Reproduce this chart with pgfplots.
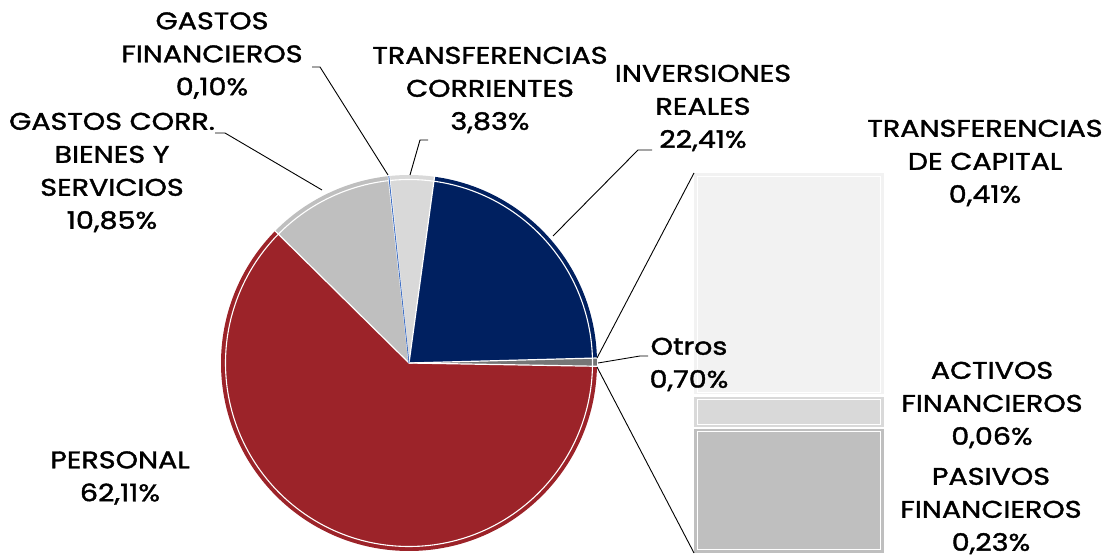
\documentclass[border=0pt]{standalone}
\usepackage{pgfplots}
\pgfplotsset{compat=1.18}
\usepackage{pgfplotstable}
\usepackage{fontspec}
\setmainfont{Poppins}[FakeBold=1.6,FakeStretch=1.19]
\definecolor{cPers}{HTML}{9C2329}
\definecolor{cGcorr}{HTML}{BFBFBF}
\definecolor{cGfin}{HTML}{4472C4}
\definecolor{cTcorr}{HTML}{D9D9D9}
\definecolor{cInv}{HTML}{002060}
\definecolor{cOtros}{HTML}{767676}
\definecolor{cTcap}{HTML}{F2F2F2}
\definecolor{cAct}{HTML}{D9D9D9}
\definecolor{cPas}{HTML}{BFBFBF}

\pgfplotstableread{
value col
62.11 cPers
10.85 cGcorr
0.10 cGfin
3.83 cTcorr
22.41 cInv
0.70 cOtros
}\piedata

\begin{document}
\begin{tikzpicture}[lbl/.style={align=center,inner sep=0pt,font=\fontsize{24}{33}\selectfont}]
\useasboundingbox (0,0) rectangle (1114pt,557pt);
\pgfplotstablegetrowsof{\piedata}
\pgfmathtruncatemacro\nrows{\pgfplotsretval-1}
% bar of pie
\begin{axis}[at={(694pt,4pt)},anchor=south west,scale only axis,width=190pt,height=380pt,
  hide axis,clip=false,xmin=-0.5,xmax=0.5,ymin=0,ymax=0.70,ybar stacked,bar width=190pt]
\addplot[fill=cPas,draw=none] coordinates {(0,0.23)};
\addplot[fill=cAct,draw=none] coordinates {(0,0.06)};
\addplot[fill=cTcap,draw=none] coordinates {(0,0.41)};
\end{axis}
\begin{axis}[at={(694pt,4pt)},anchor=south west,scale only axis,width=190pt,height=380pt,
  hide axis,clip=false,xmin=-0.5,xmax=0.5,ymin=0,ymax=0.70]
\draw[white,line width=2.2pt] (axis cs:-0.5,0.23) -- (axis cs:0.5,0.23);
\draw[white,line width=2.2pt] (axis cs:-0.5,0.29) -- (axis cs:0.5,0.29);
\draw[white,line width=1.1pt] ([xshift=3.5pt,yshift=3.5pt]axis cs:-0.5,0) rectangle ([xshift=-3.5pt,yshift=-3.5pt]axis cs:0.5,0.23);
\draw[white,line width=1.1pt] ([xshift=3.5pt,yshift=3.5pt]axis cs:-0.5,0.23) rectangle ([xshift=-3.5pt,yshift=-3.5pt]axis cs:0.5,0.29);
\draw[white,line width=1.1pt] ([xshift=3.5pt,yshift=3.5pt]axis cs:-0.5,0.29) rectangle ([xshift=-3.5pt,yshift=-3.5pt]axis cs:0.5,0.70);
\end{axis}
\begin{axis}[x=1pt,y=1pt,xmin=0,xmax=1114,ymin=0,ymax=557,hide axis,clip=false,
  anchor=south west, at={(0,0)}]
\pgfplotsextra{
  \def\ang{-1.0}
  \pgfplotsforeachungrouped \i in {0,...,\nrows}{%
    \pgfplotstablegetelem{\i}{value}\of\piedata \let\sv\pgfplotsretval
    \pgfplotstablegetelem{\i}{col}\of\piedata \let\scol\pgfplotsretval
    \pgfmathsetmacro\endang{\ang-3.6*\sv}%
    \fill[fill=\scol] (axis cs:409,194) -- ++(\ang:188pt) arc[start angle=\ang, end angle=\endang, radius=188pt] -- cycle;
    \draw[white,line width=1.1pt] (axis cs:409,194) ++(\ang:183.5pt) arc[start angle=\ang, end angle=\endang, radius=183.5pt];
    \let\ang\endang
  }%
  \def\ang{-1.0}
  \pgfplotsforeachungrouped \i in {0,...,\nrows}{%
    \pgfplotstablegetelem{\i}{value}\of\piedata \let\sv\pgfplotsretval
    \draw[white,line width=1.2pt] (axis cs:409,194) -- ++(\ang:189pt);
    \pgfmathsetmacro\endang{\ang-3.6*\sv}%
    \let\ang\endang
  }%
  \def\ang{-1.0}
  \pgfplotsforeachungrouped \i in {0,...,\nrows}{%
    \pgfplotstablegetelem{\i}{value}\of\piedata \let\sv\pgfplotsretval
    \pgfplotstablegetelem{\i}{col}\of\piedata \let\scol\pgfplotsretval
    \pgfmathsetmacro\endang{\ang-3.6*\sv}%
    \pgfmathsetmacro\midang{\ang-1.8*\sv}%
    \ifdim\sv pt<0.3pt
      \draw[draw=\scol,line width=0.9pt] (axis cs:409,194) -- ++(\midang:188pt);
    \fi
    \let\ang\endang
  }%
}
% leader lines
\draw[black,line width=0.9pt] (axis cs:312,490) -- (axis cs:320,490) -- (axis cs:388,382);
\draw[black,line width=0.9pt] (axis cs:428,417) -- (axis cs:420,417) -- (axis cs:410,382);
\draw[black,line width=0.9pt] (axis cs:652,407) -- (axis cs:638,407) -- (axis cs:553,321);
\draw[black,line width=0.9pt] (axis cs:215,424) -- (axis cs:225,424) -- (axis cs:322,367);
\draw[black,line width=0.9pt] (axis cs:648,201) -- (axis cs:640,201) -- (axis cs:598,194);
% connectors
\draw[black,line width=0.9pt] (axis cs:597,199) -- (axis cs:694,384);
\draw[black,line width=0.9pt] (axis cs:597,190) -- (axis cs:694,4);
% labels
\node[lbl] at (axis cs:212,501.5) {GASTOS\\FINANCIEROS\\0,10\%};
\node[lbl] at (axis cs:490,467) {TRANSFERENCIAS\\CORRIENTES\\3,83\%};
\node[lbl] at (axis cs:703,449) {INVERSIONES\\REALES\\22,41\%};
\node[lbl] at (axis cs:985,394) {TRANSFERENCIAS\\DE CAPITAL\\0,41\%};
\node[lbl] at (axis cs:112,384.5) {GASTOS CORR.\\BIENES Y\\SERVICIOS\\10,85\%};
\node[lbl] at (axis cs:689,192.5) {Otros\\0,70\%};
\node[lbl] at (axis cs:992,152) {ACTIVOS\\FINANCIEROS\\0,06\%};
\node[lbl] at (axis cs:991,46) {PASIVOS\\FINANCIEROS\\0,23\%};
\node[lbl] at (axis cs:120,79) {PERSONAL\\62,11\%};
\end{axis}
\end{tikzpicture}
\end{document}
